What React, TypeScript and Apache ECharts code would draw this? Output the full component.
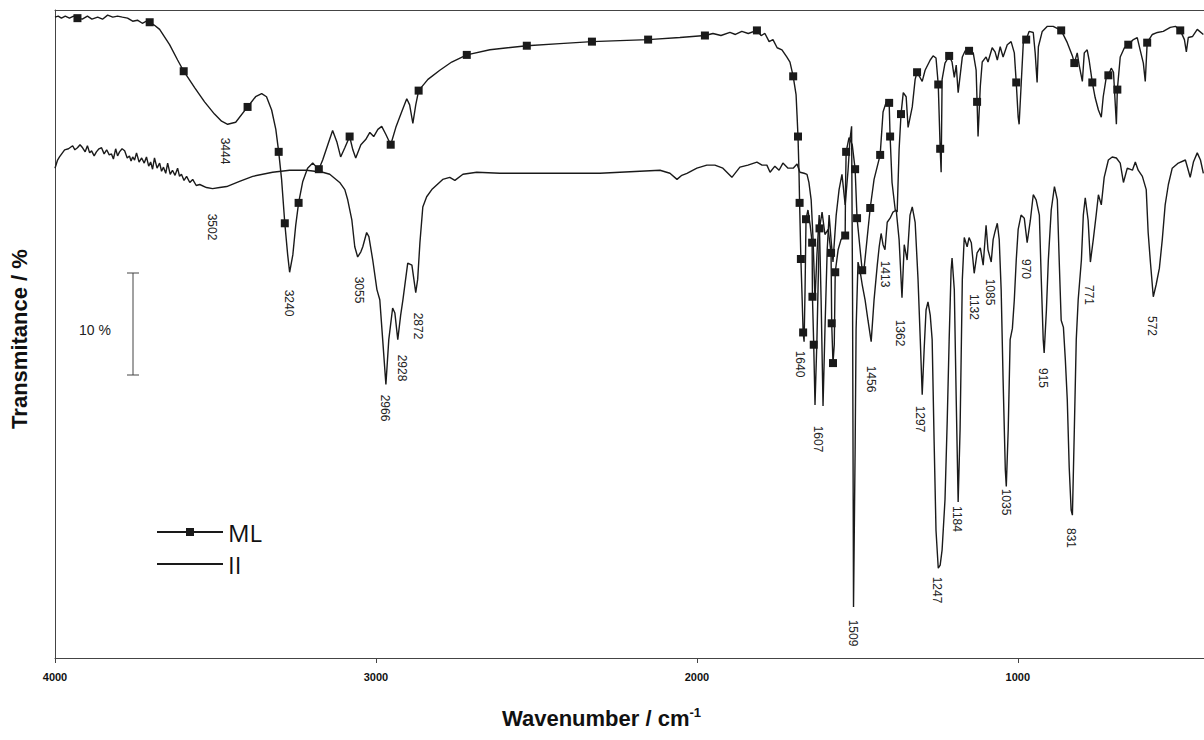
import React, { useEffect, useRef } from "react";
import * as echarts from "echarts";

// wavenumber (cm-1), transmittance (%), 1 = square marker
const mlPoints: number[][] = [
  [4000, 62.8], [3990, 62.9], [3980, 62.7], [3968, 62.9], [3955, 62.7], [3942, 62.9], [3930, 62.7, 1],
  [3915, 62.6], [3899, 62.9], [3885, 62.6], [3867, 62.8], [3852, 62.6], [3836, 63.0], [3820, 62.8],
  [3805, 62.9], [3790, 62.8], [3774, 62.7], [3758, 62.4], [3743, 62.5], [3728, 62.2], [3715, 62.4],
  [3705, 62.3, 1], [3690, 62.0], [3674, 61.6], [3643, 60.1], [3618, 58.6],
  [3599, 57.5, 1], [3565, 55.9], [3534, 54.5], [3503, 53.3], [3481, 52.6], [3462, 52.3], [3437, 52.5],
  [3400, 54.0, 1], [3375, 55.0], [3356, 55.3], [3341, 55.0], [3325, 53.7], [3312, 51.8], [3303, 49.6, 1],
  [3294, 46.9], [3284, 42.6, 1], [3275, 39.5], [3269, 37.8], [3259, 39.5], [3250, 42.4], [3241, 44.6, 1],
  [3228, 46.7], [3213, 48.0], [3197, 48.5], [3188, 48.2], [3178, 47.9, 1], [3166, 48.8], [3150, 50.3],
  [3135, 51.7], [3122, 50.6], [3110, 49.1], [3097, 50.0], [3082, 51.1, 1], [3072, 49.8], [3063, 49.0],
  [3047, 50.3], [3032, 50.8], [3019, 51.5], [3007, 51.1], [2994, 51.8], [2982, 52.1], [2969, 51.3],
  [2954, 50.3, 1], [2938, 52.0], [2920, 53.5], [2904, 54.8], [2895, 54.2], [2885, 52.4], [2876, 54.2],
  [2867, 55.6, 1], [2838, 56.7], [2801, 57.6], [2764, 58.4], [2717, 59.1, 1], [2645, 59.6], [2530, 60.0, 1],
  [2427, 60.2], [2327, 60.4, 1], [2240, 60.5], [2152, 60.6, 1], [2053, 60.8], [1975, 61.0, 1], [1950, 61.2],
  [1925, 61.0], [1897, 61.3], [1880, 61.1], [1860, 61.4], [1840, 61.2], [1813, 61.5, 1], [1800, 61.0],
  [1788, 61.2], [1775, 60.4], [1763, 60.6], [1750, 59.8], [1735, 59.6], [1720, 58.9], [1710, 58.4],
  [1700, 57.0, 1], [1691, 55.2], [1688, 53.2], [1685, 51.1, 1], [1682, 47.8], [1680, 44.6, 1],
  [1676, 39.1, 1], [1672, 35.1], [1669, 31.9, 1], [1666, 31.0], [1663, 36.1], [1660, 43.0, 1],
  [1654, 43.9], [1647, 42.4], [1641, 40.7, 1], [1640, 35.4, 1], [1636, 30.7, 1], [1632, 24.8],
  [1626, 31.2], [1621, 38.5], [1618, 42.1, 1], [1610, 43.7], [1601, 41.5], [1591, 42.0], [1582, 39.7, 1],
  [1580, 32.8, 1], [1576, 28.9, 1], [1572, 30.7], [1569, 37.8, 1], [1560, 40.0], [1551, 41.0],
  [1538, 41.4, 1], [1537, 45.9], [1535, 49.6, 1], [1526, 51.0], [1516, 50.3], [1507, 47.9, 1],
  [1501, 43.1, 1], [1492, 40.2], [1485, 38.0, 1], [1479, 38.2], [1470, 41.0], [1460, 44.1, 1],
  [1448, 46.9], [1429, 49.3, 1], [1420, 53.5], [1410, 54.5], [1401, 54.4, 1], [1398, 51.1, 1],
  [1392, 46.6], [1382, 43.9], [1376, 43.7], [1370, 49.8], [1364, 53.3, 1], [1357, 55.4], [1348, 55.0],
  [1342, 52.0], [1329, 54.0], [1320, 56.7], [1314, 57.4, 1], [1298, 56.5], [1289, 57.6], [1273, 58.6],
  [1264, 59.0], [1255, 58.8], [1248, 56.2, 1], [1242, 49.9, 1], [1239, 47.6], [1236, 56.7], [1227, 58.3],
  [1214, 59.0, 1], [1205, 58.4], [1198, 56.9], [1192, 58.1], [1186, 55.4], [1173, 58.9], [1164, 59.5],
  [1152, 59.5, 1], [1139, 59.3], [1130, 57.6], [1127, 54.5, 1], [1124, 51.1], [1117, 56.0], [1111, 58.4],
  [1099, 58.9], [1093, 58.4], [1080, 59.8], [1071, 59.4], [1064, 58.6], [1055, 59.9], [1046, 58.9],
  [1033, 60.1], [1021, 60.4], [1011, 59.3], [1005, 56.4, 1], [999, 53.0], [996, 52.3], [990, 56.0],
  [983, 60.3], [974, 60.6, 1], [965, 61.4], [952, 61.3], [946, 59.3], [940, 56.4], [936, 59.9], [924, 61.4],
  [908, 61.9], [890, 61.9], [865, 61.5, 1], [846, 60.3], [830, 59.0], [824, 58.3, 1], [815, 59.3],
  [809, 58.1], [799, 56.5], [793, 59.3], [784, 59.6], [778, 58.6], [768, 56.4, 1], [759, 54.9], [749, 53.7],
  [740, 53.0], [734, 55.0], [724, 57.0], [718, 57.1, 1], [709, 57.8], [702, 57.4], [693, 52.3],
  [690, 55.7, 1], [681, 58.9], [668, 59.8], [656, 60.1, 1], [640, 60.6], [628, 60.8], [619, 59.6],
  [609, 58.3], [603, 56.5], [597, 60.3, 1], [581, 61.1], [565, 61.3], [547, 61.4], [525, 61.8], [509, 61.9],
  [494, 61.5, 1], [481, 60.6], [475, 59.4], [469, 60.8], [456, 60.9], [441, 61.6], [422, 61.1],
];

const iiPoints: number[][] = [
  [4000, 48.0], [3992, 48.8], [3986, 49.1], [3970, 49.8], [3958, 49.9], [3945, 50.2], [3938, 49.8],
  [3930, 50.0], [3922, 50.3], [3914, 50.0], [3906, 49.6], [3899, 50.2], [3892, 49.5], [3886, 49.7],
  [3878, 49.2], [3871, 49.6], [3863, 49.9], [3855, 50.0], [3847, 49.4], [3839, 49.8], [3831, 49.3],
  [3824, 49.4], [3818, 48.9], [3811, 49.9], [3805, 49.2], [3799, 49.6], [3791, 49.9], [3783, 49.7],
  [3775, 49.0], [3768, 49.2], [3763, 48.7], [3758, 49.1], [3752, 48.8], [3746, 49.5], [3738, 48.6],
  [3730, 49.0], [3722, 48.5], [3715, 49.1], [3708, 48.2], [3702, 48.6], [3696, 47.9], [3690, 49.0],
  [3682, 48.0], [3674, 48.5], [3668, 47.7], [3662, 48.1], [3655, 47.5], [3649, 48.5], [3641, 47.4],
  [3634, 47.8], [3626, 47.3], [3618, 48.0], [3612, 47.2], [3606, 47.4], [3598, 46.8], [3590, 47.2],
  [3580, 46.6], [3571, 46.9], [3560, 46.3], [3549, 46.4], [3528, 46.1], [3509, 46.0], [3487, 46.1],
  [3465, 46.2], [3425, 46.7], [3384, 47.2], [3322, 47.6], [3269, 47.8], [3216, 47.8], [3166, 47.6],
  [3144, 47.4], [3113, 46.6], [3097, 45.9], [3088, 44.9], [3075, 42.9], [3066, 40.3], [3057, 39.3],
  [3047, 39.8], [3041, 40.3], [3029, 41.7], [3022, 41.3], [3010, 39.0], [2997, 36.1], [2988, 35.1],
  [2979, 31.2], [2969, 26.8], [2960, 31.2], [2948, 34.3], [2941, 33.8], [2932, 31.2], [2923, 33.6],
  [2916, 35.1], [2901, 38.7], [2888, 38.5], [2876, 35.8], [2870, 37.1], [2863, 40.7], [2854, 44.2],
  [2842, 45.2], [2826, 45.9], [2792, 46.9], [2770, 47.1], [2754, 46.8], [2729, 47.4], [2686, 47.6],
  [2614, 47.5], [2302, 47.5], [2115, 47.8], [2084, 47.5], [2062, 46.9], [2047, 47.3], [2031, 47.5],
  [2000, 48.0], [1969, 48.3], [1944, 48.3], [1919, 48.0], [1891, 47.1], [1866, 48.1], [1841, 48.3],
  [1813, 48.6], [1797, 48.3], [1782, 48.3], [1772, 47.6], [1757, 48.2], [1744, 47.8], [1732, 48.5],
  [1716, 48.0], [1700, 48.0], [1688, 48.4], [1679, 47.6], [1666, 47.5], [1657, 47.4], [1651, 46.6],
  [1644, 44.9], [1638, 41.0], [1632, 35.1], [1626, 39.5], [1619, 43.4], [1613, 35.1], [1607, 24.7],
  [1601, 32.2], [1594, 40.0], [1588, 43.4], [1582, 41.0], [1576, 38.8], [1566, 43.4], [1557, 45.9],
  [1548, 47.4], [1538, 44.4], [1529, 47.8], [1523, 50.8], [1518, 52.1], [1515, 35.1], [1512, 5.0],
  [1507, 20.4], [1504, 32.2], [1498, 38.8], [1492, 38.0], [1485, 36.6], [1476, 35.1], [1467, 33.1],
  [1457, 31.0], [1448, 35.1], [1438, 38.5], [1432, 40.3], [1426, 41.6], [1420, 40.5], [1414, 40.0],
  [1407, 42.7], [1398, 43.1], [1389, 43.7], [1379, 43.9], [1370, 41.0], [1361, 35.3], [1354, 40.5],
  [1345, 39.0], [1336, 43.4], [1329, 44.2], [1320, 42.7], [1311, 37.1], [1304, 31.2], [1298, 25.8],
  [1292, 30.2], [1286, 34.1], [1280, 34.9], [1273, 33.6], [1267, 31.2], [1261, 21.4], [1255, 12.5],
  [1248, 8.8], [1242, 9.1], [1236, 10.6], [1227, 15.5], [1220, 23.3], [1214, 31.2], [1208, 38.0],
  [1205, 39.2], [1198, 36.1], [1192, 25.3], [1186, 15.3], [1180, 22.4], [1173, 37.1], [1167, 41.2],
  [1158, 40.3], [1152, 41.2], [1145, 40.7], [1136, 37.7], [1127, 39.7], [1117, 40.2], [1108, 38.5],
  [1099, 42.4], [1093, 40.0], [1083, 38.8], [1077, 41.0], [1071, 41.8], [1064, 42.6], [1058, 41.0],
  [1052, 36.1], [1046, 27.3], [1039, 18.4], [1036, 16.8], [1030, 22.4], [1024, 31.2], [1017, 32.3],
  [1011, 35.1], [1005, 39.0], [999, 42.0], [990, 43.4], [980, 43.1], [971, 40.7], [961, 42.9], [952, 45.4],
  [943, 44.9], [933, 43.4], [927, 37.1], [921, 31.2], [918, 29.9], [911, 34.1], [905, 39.0], [896, 43.9],
  [886, 46.2], [877, 44.9], [871, 38.8], [865, 33.1], [858, 32.4], [852, 29.2], [846, 25.3], [840, 18.7],
  [834, 14.5], [830, 14.0], [824, 22.4], [818, 31.2], [812, 35.1], [802, 39.0], [796, 43.4], [790, 45.1],
  [781, 42.9], [774, 38.8], [765, 41.0], [756, 43.4], [749, 45.4], [740, 44.4], [731, 47.1], [718, 48.8],
  [706, 49.1], [693, 49.0], [681, 48.5], [671, 46.6], [659, 48.0], [643, 47.8], [634, 48.6], [625, 47.8],
  [612, 47.2], [600, 45.9], [594, 41.7], [587, 38.8], [578, 35.4], [569, 36.6], [559, 38.2], [550, 41.0],
  [541, 44.4], [531, 46.4], [519, 48.0], [500, 48.5], [478, 48.8], [469, 47.8], [463, 47.1], [453, 48.6],
  [441, 49.5], [431, 48.8], [422, 47.5],
];

const xTicks = [4000, 3000, 2000, 1000];

// peak annotations: text, page x, page y (centre of rotated label)
const peakLabels: [string, number, number][] = [
  ["3444", 225, 151], ["3502", 212, 227], ["3240", 289, 303], ["3055", 359, 290],
  ["2966", 385, 408], ["2928", 402, 368], ["2872", 418, 326], ["1640", 800, 364],
  ["1607", 818, 439], ["1509", 853, 633], ["1456", 871, 379], ["1413", 885, 274],
  ["1362", 900, 333], ["1297", 920, 419], ["1247", 937, 590], ["1184", 957, 519],
  ["1132", 974, 307], ["1085", 990, 292], ["1035", 1006, 502], ["970", 1026, 269],
  ["915", 1043, 378], ["831", 1071, 538], ["771", 1089, 295], ["572", 1152, 326],
];

const LINE = "#1a1a1a";

export default function App() {
  const ref = useRef<HTMLDivElement>(null);
  useEffect(() => {
    const chart = echarts.init(ref.current!, null, { renderer: "svg" });
    const mlData = mlPoints.map((p) =>
      p[2] ? { value: [p[0], p[1]], symbol: "rect", symbolSize: 8 } : { value: [p[0], p[1]], symbol: "none" }
    );
    const iiData = iiPoints.map((p) => [p[0], p[1]]);
    const graphics: any[] = peakLabels.map(([t, x, y]) => ({
      type: "text",
      x,
      y,
      rotation: -Math.PI / 2,
      silent: true,
      style: {
        text: t,
        fill: "#222",
        font: "12px 'Liberation Sans', Arial, sans-serif",
        align: "center",
        verticalAlign: "middle",
      },
    }));
    graphics.push(
      { type: "line", shape: { x1: 133, y1: 273, x2: 133, y2: 375 }, style: { stroke: "#444", lineWidth: 1 } },
      { type: "line", shape: { x1: 127, y1: 273, x2: 139, y2: 273 }, style: { stroke: "#444", lineWidth: 1 } },
      { type: "line", shape: { x1: 127, y1: 375, x2: 139, y2: 375 }, style: { stroke: "#444", lineWidth: 1 } },
      {
        type: "text",
        x: 95,
        y: 330,
        style: {
          text: "10 %",
          fill: "#222",
          font: "14px 'Liberation Sans', Arial, sans-serif",
          align: "center",
          verticalAlign: "middle",
        },
      }
    );
    chart.setOption({
      animation: false,
      backgroundColor: "#fff",
      grid: { left: 55, right: 0, top: 10, bottom: 82 },
      legend: {
        orient: "vertical",
        left: 151,
        top: 515,
        itemWidth: 66,
        itemHeight: 10,
        itemGap: 8,
        textStyle: { fontSize: 24, color: "#111", fontFamily: "'Open Sans', 'Liberation Sans', sans-serif" },
        data: [{ name: "ML" }, { name: "II", itemStyle: { opacity: 0 } }],
      },
      xAxis: [
        {
          type: "value",
          inverse: true,
          min: 420,
          max: 4000,
          axisLine: { show: true, lineStyle: { color: "#444", width: 1 } },
          axisTick: { show: true, length: 5, customValues: xTicks, lineStyle: { color: "#444" } },
          axisLabel: {
            customValues: xTicks,
            formatter: (v: number) => String(v),
            margin: 13,
            fontSize: 11,
            fontWeight: "bold",
            color: "#111",
            fontFamily: "'Liberation Sans Narrow', 'Liberation Sans', Arial, sans-serif",
          },
          splitLine: { show: false },
          name: "Wavenumber / cm{sup|-1}",
          nameLocation: "middle",
          nameGap: 48,
          nameTextStyle: {
            fontSize: 22,
            fontWeight: "bold",
            color: "#111",
            fontFamily: "'Liberation Sans', Arial, sans-serif",
            padding: [0, 56, 0, 0],
            rich: {
              sup: {
                fontSize: 13,
                fontWeight: "bold",
                verticalAlign: "top",
                padding: [0, 0, 12, 0],
                color: "#111",
                fontFamily: "'Liberation Sans', Arial, sans-serif",
              },
            },
          },
        },
        {
          type: "value",
          position: "top",
          inverse: true,
          min: 420,
          max: 4000,
          axisLine: { show: true, lineStyle: { color: "#444", width: 1 } },
          axisTick: { show: false },
          axisLabel: { show: false },
          splitLine: { show: false },
        },
      ],
      yAxis: {
        type: "value",
        min: 0,
        max: 63.5,
        axisLine: { show: true, lineStyle: { color: "#444", width: 1 } },
        axisTick: { show: false },
        axisLabel: { show: false },
        splitLine: { show: false },
        name: "Transmitance / %",
        nameLocation: "middle",
        nameGap: 25,
        nameTextStyle: {
          fontSize: 22,
          fontWeight: "bold",
          color: "#111",
          fontFamily: "'Liberation Sans', Arial, sans-serif",
          padding: [0, 10, 0, 0],
        },
      },
      series: [
        {
          name: "ML",
          type: "line",
          xAxisIndex: 0,
          data: mlData,
          symbol: "rect",
          symbolSize: 8,
          showSymbol: true,
          lineStyle: { color: LINE, width: 1.4 },
          itemStyle: { color: LINE },
          silent: true,
        },
        {
          name: "II",
          type: "line",
          xAxisIndex: 0,
          data: iiData,
          symbol: "none",
          showSymbol: false,
          lineStyle: { color: LINE, width: 1.4 },
          itemStyle: { color: LINE },
          silent: true,
        },
      ],
      graphic: graphics,
    });
    return () => chart.dispose();
  }, []);
  return (
    <div
      ref={ref}
      style={{ position: "fixed", left: 0, top: 0, width: 1204, height: 740, background: "#fff" }}
    />
  );
}
